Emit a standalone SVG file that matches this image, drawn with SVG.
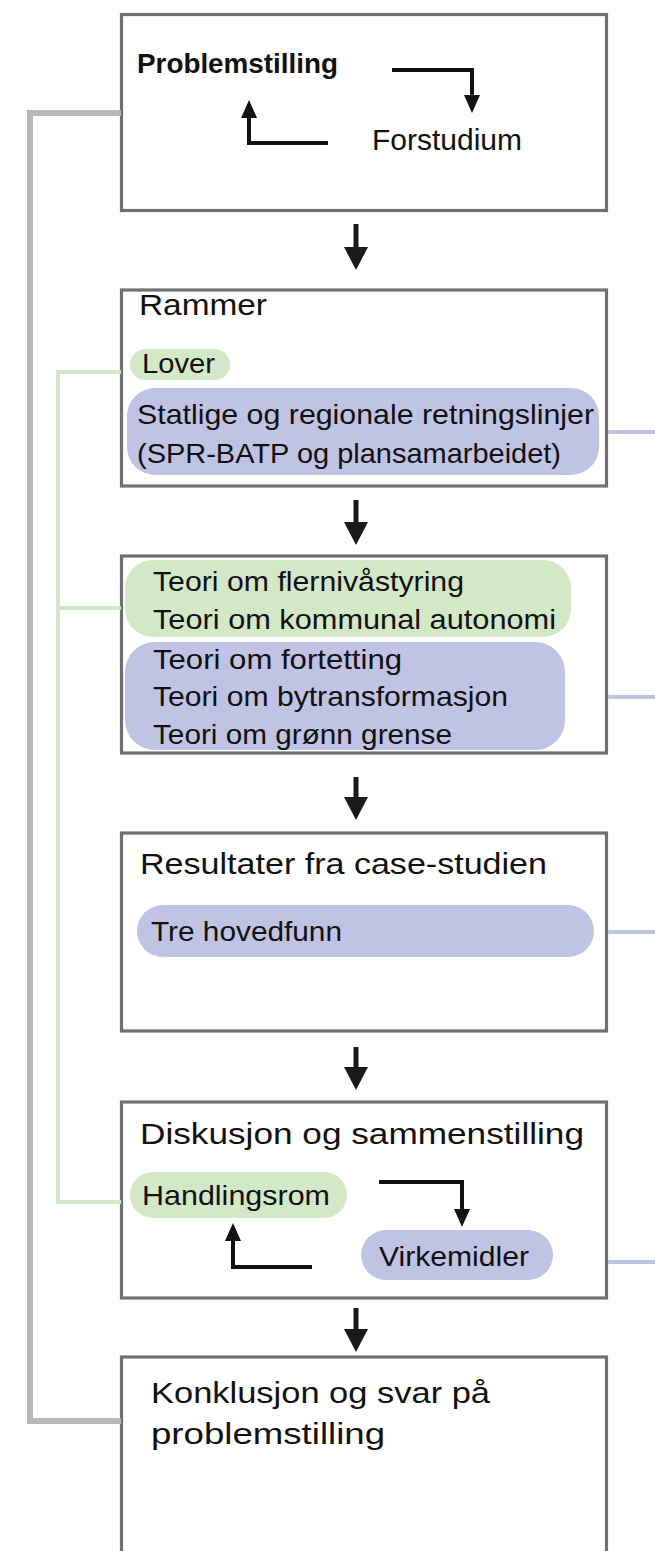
<svg xmlns="http://www.w3.org/2000/svg" width="655" height="1551" viewBox="0 0 655 1551">
<defs>
<style>
.box{fill:#fff;stroke:#707070;stroke-width:3.2}
.t{font-family:"Liberation Sans",Arial,sans-serif;font-size:30px;fill:#111}
.s{font-size:28px}
.b{font-weight:bold}
.g{fill:#d3e8c7}
.p{fill:#c1c3e4}
.gl{stroke:#d3e8c7;stroke-width:4;fill:none}
.pl{stroke:#c1c3e4;stroke-width:4;fill:none}
.gray{stroke:#b8b8b8;stroke-width:6;fill:none}
.ar{stroke:#1a1a1a;stroke-width:5;fill:none;marker-end:url(#ah)}
.sa{stroke:#111;stroke-width:4;fill:none;marker-end:url(#sh)}
</style>
<marker id="ah" markerUnits="userSpaceOnUse" markerWidth="23" markerHeight="24" viewBox="0 0 23 24" refX="10" refY="12" orient="auto"><path d="M0,0 L23,12 L0,24 z" fill="#1a1a1a"/></marker>
<marker id="sh" markerUnits="userSpaceOnUse" markerWidth="18" markerHeight="16" viewBox="0 0 18 16" refX="8" refY="8" orient="auto"><path d="M0,0 L18,8 L0,16 z" fill="#111"/></marker>
</defs>
<rect width="655" height="1551" fill="#fff"/>

<g id="box1">
<rect class="box" x="121.5" y="14.5" width="485" height="196"/>
<text class="t b s" x="137" y="73" textLength="201" lengthAdjust="spacingAndGlyphs">Problemstilling</text>
<text class="t" x="372" y="150" textLength="150" lengthAdjust="spacingAndGlyphs">Forstudium</text>
</g>

<g id="box2">
<rect class="box" x="121.5" y="290" width="485" height="196"/>
<text class="t" x="139" y="315" textLength="128" lengthAdjust="spacingAndGlyphs">Rammer</text>
<rect class="g" x="130" y="349" width="100" height="31" rx="15.5"/>
<text class="t s" x="142" y="373" textLength="73" lengthAdjust="spacingAndGlyphs">Lover</text>
<rect class="p" x="127" y="388" width="472" height="87" rx="28"/>
<text class="t s" x="137" y="424" textLength="457" lengthAdjust="spacingAndGlyphs">Statlige og regionale retningslinjer</text>
<text class="t s" x="137" y="463" textLength="424" lengthAdjust="spacingAndGlyphs">(SPR-BATP og plansamarbeidet)</text>
</g>

<g id="box3">
<rect class="box" x="121.5" y="556" width="485" height="197"/>
<rect class="g" x="125" y="560" width="446" height="77" rx="28"/>
<text class="t s" x="153" y="591" textLength="311" lengthAdjust="spacingAndGlyphs">Teori om flernivåstyring</text>
<text class="t s" x="153" y="629" textLength="403" lengthAdjust="spacingAndGlyphs">Teori om kommunal autonomi</text>
<rect class="p" x="125" y="642" width="440" height="108" rx="30"/>
<text class="t s" x="153" y="669" textLength="249" lengthAdjust="spacingAndGlyphs">Teori om fortetting</text>
<text class="t s" x="153" y="706" textLength="355" lengthAdjust="spacingAndGlyphs">Teori om bytransformasjon</text>
<text class="t s" x="153" y="744" textLength="299" lengthAdjust="spacingAndGlyphs">Teori om grønn grense</text>
</g>

<g id="box4">
<rect class="box" x="121.5" y="833" width="485" height="198"/>
<text class="t" x="140" y="874" textLength="407" lengthAdjust="spacingAndGlyphs">Resultater fra case-studien</text>
<rect class="p" x="137" y="905" width="457" height="52" rx="26"/>
<text class="t s" x="151" y="941" textLength="191" lengthAdjust="spacingAndGlyphs">Tre hovedfunn</text>
</g>

<g id="box5">
<rect class="box" x="121.5" y="1102" width="485" height="196"/>
<text class="t" x="140" y="1144" textLength="444" lengthAdjust="spacingAndGlyphs">Diskusjon og sammenstilling</text>
<rect class="g" x="130" y="1172" width="217" height="46" rx="23"/>
<text class="t s" x="142" y="1205" textLength="188" lengthAdjust="spacingAndGlyphs">Handlingsrom</text>
<rect class="p" x="361" y="1230" width="192" height="50" rx="25"/>
<text class="t s" x="379" y="1266" textLength="150" lengthAdjust="spacingAndGlyphs">Virkemidler</text>
</g>

<g id="box6">
<rect class="box" x="121.5" y="1357" width="485" height="210"/>
<text class="t" x="151" y="1403" textLength="339" lengthAdjust="spacingAndGlyphs">Konklusjon og svar på</text>
<text class="t" x="151" y="1444" textLength="234" lengthAdjust="spacingAndGlyphs">problemstilling</text>
</g>

<g id="connectors">
<path class="gray" d="M121,113 H30 V1421 H121"/>
<path class="gl" d="M121,372 H58 V1202 H121"/>
<path class="gl" d="M58,608 H121"/>
<path class="pl" d="M608,432 H655"/>
<path class="pl" d="M608,697 H655"/>
<path class="pl" d="M608,932 H655"/>
<path class="pl" d="M608,1262 H655"/>
<path class="ar" d="M356,224 V257"/>
<path class="ar" d="M356,500 V532"/>
<path class="ar" d="M356,777 V807"/>
<path class="ar" d="M356,1047 V1077"/>
<path class="ar" d="M356,1308 V1339"/>
<path class="sa" d="M392,70 H472 V103"/>
<path class="sa" d="M328,143 H249 V110"/>
<path class="sa" d="M379,1182 H462 V1217"/>
<path class="sa" d="M312,1267 H233 V1233"/>
</g>
</svg>
